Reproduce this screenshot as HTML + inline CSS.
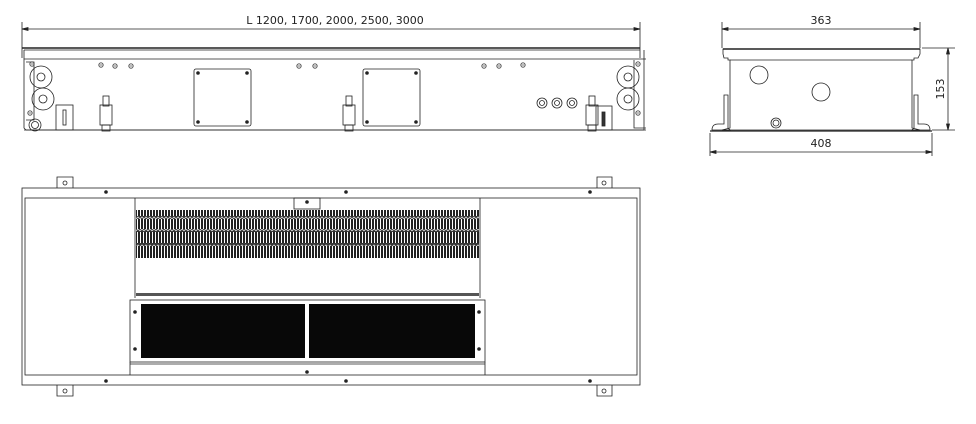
<!DOCTYPE html>
<html><head><meta charset="utf-8"><style>
html,body{margin:0;padding:0;background:#fff;width:976px;height:424px;overflow:hidden}
svg{display:block}
text{font-family:"DejaVu Sans","Liberation Sans",sans-serif;font-size:11px;fill:#222}
</style></head><body>
<svg width="976" height="424" viewBox="0 0 976 424" xmlns="http://www.w3.org/2000/svg">
<defs>
<pattern id="coil" width="3" height="6" patternUnits="userSpaceOnUse">
<rect width="3" height="6" fill="#fff"/><rect width="2" height="6" fill="#222"/>
</pattern>
<pattern id="zz" width="4" height="4" patternUnits="userSpaceOnUse">
<rect width="4" height="4" fill="#333"/><path d="M0 3 L2 1 L4 3" stroke="#ddd" stroke-width="0.8" fill="none"/>
</pattern>
<g id="scr"><circle r="2.2" fill="none" stroke="#444" stroke-width="0.8"/><line x1="-1.5" x2="1.5" stroke="#444" stroke-width="0.7"/></g>
<g id="dot"><circle r="1.8" fill="#222"/></g>
</defs>
<g stroke="#222" fill="none" stroke-width="0.8">
<!-- TOP VIEW dims -->
<line x1="22" y1="22" x2="22" y2="48"/><line x1="640" y1="22" x2="640" y2="48"/>
<line x1="22" y1="29" x2="640" y2="29"/>
<path d="M22 29 l6 -1.5 v3z M640 29 l-6 -1.5 v3z" fill="#222"/>
<!-- body -->
<line x1="22" y1="48" x2="640" y2="48" stroke-width="1.4"/>
<line x1="22" y1="48" x2="22" y2="58"/><line x1="640" y1="48" x2="640" y2="58"/>
<line x1="24" y1="59" x2="646" y2="59" stroke-width="0.8"/>
<path d="M24 50 V128 l2 2 H644 V50"/>
<line x1="24" y1="130" x2="646" y2="130"/>
<line x1="24" y1="50" x2="640" y2="50"/>
<path d="M26 62 H34 V120 H26" />
<circle cx="41" cy="77" r="11"/><circle cx="41" cy="77" r="4"/>
<circle cx="43" cy="99" r="11"/><circle cx="43" cy="99" r="4"/>
<circle cx="35" cy="125" r="6"/><circle cx="35" cy="125" r="3.5"/>
<rect x="56" y="105" width="17" height="25"/><rect x="63" y="110" width="3" height="15"/>
<rect x="100" y="105" width="12" height="20"/><rect x="103" y="96" width="6" height="10"/><rect x="102" y="125" width="8" height="6"/>
<rect x="194" y="69" width="57" height="57" rx="2"/>
<rect x="363" y="69" width="57" height="57" rx="2"/>
<rect x="343" y="105" width="12" height="20"/><rect x="346" y="96" width="6" height="10"/><rect x="345" y="125" width="8" height="6"/>
<rect x="586" y="105" width="12" height="20"/><rect x="589" y="96" width="6" height="10"/><rect x="588" y="125" width="8" height="6"/>
<rect x="596" y="106" width="16" height="24"/><rect x="602" y="112" width="3" height="14" fill="#333"/>
<circle cx="542" cy="103" r="5"/><circle cx="542" cy="103" r="2.5"/>
<circle cx="557" cy="103" r="5"/><circle cx="557" cy="103" r="2.5"/>
<circle cx="572" cy="103" r="5"/><circle cx="572" cy="103" r="2.5"/>
<circle cx="628" cy="77" r="11"/><circle cx="628" cy="77" r="4"/>
<circle cx="628" cy="99" r="11"/><circle cx="628" cy="99" r="4"/>
<path d="M634 60 V128 H646"/>
</g>
<g>
<use href="#scr" x="32" y="64"/><use href="#scr" x="101" y="65"/><use href="#scr" x="115" y="66"/><use href="#scr" x="131" y="66"/>
<use href="#scr" x="299" y="66"/><use href="#scr" x="315" y="66"/><use href="#scr" x="484" y="66"/><use href="#scr" x="499" y="66"/><use href="#scr" x="523" y="65"/>
<use href="#scr" x="30" y="113"/><use href="#scr" x="638" y="64"/><use href="#scr" x="638" y="113"/>
<use href="#dot" x="198" y="73"/><use href="#dot" x="247" y="73"/><use href="#dot" x="198" y="122"/><use href="#dot" x="247" y="122"/>
<use href="#dot" x="367" y="73"/><use href="#dot" x="416" y="73"/><use href="#dot" x="367" y="122"/><use href="#dot" x="416" y="122"/>
</g>
<text x="335" y="24" text-anchor="middle">L 1200, 1700, 2000, 2500, 3000</text>

<!-- SIDE VIEW -->
<g stroke="#222" fill="none" stroke-width="0.8">
<line x1="722" y1="22" x2="722" y2="48"/><line x1="920" y1="22" x2="920" y2="48"/>
<line x1="722" y1="29" x2="920" y2="29"/>
<path d="M722 29 l6 -1.5 v3z M920 29 l-6 -1.5 v3z" fill="#222"/>
<path d="M723 49 H920 V54 L918 58 H914 V60 H912 V128 L920 130 H722 L730 128 V60 H728 V58 H724 L723 54Z"/>
<line x1="723" y1="49" x2="920" y2="49" stroke-width="1.4"/>
<line x1="730" y1="60" x2="912" y2="60"/>
<circle cx="759" cy="75" r="9"/><circle cx="821" cy="92" r="9"/>
<circle cx="776" cy="123" r="5"/><circle cx="776" cy="123" r="3"/>
<path d="M712 130 Q712 124 718 124 H724 V95 H728 V128 L730 130Z"/>
<path d="M930 130 Q930 124 924 124 H918 V95 H914 V128 L912 130Z"/>
<line x1="710" y1="131" x2="932" y2="131" stroke-width="1.2"/>
<line x1="922" y1="48" x2="955" y2="48"/><line x1="932" y1="130" x2="955" y2="130"/>
<line x1="948" y1="48" x2="948" y2="130"/>
<path d="M948 48 l-1.5 6 h3z M948 130 l-1.5 -6 h3z" fill="#222"/>
<line x1="710" y1="133" x2="710" y2="156"/><line x1="932" y1="133" x2="932" y2="156"/>
<line x1="710" y1="152" x2="932" y2="152"/>
<path d="M710 152 l6 -1.5 v3z M932 152 l-6 -1.5 v3z" fill="#222"/>
</g>
<text x="821" y="24" text-anchor="middle">363</text>
<text x="821" y="147" text-anchor="middle">408</text>
<text x="0" y="0" text-anchor="middle" transform="translate(944 89) rotate(-90)">153</text>

<!-- BOTTOM VIEW -->
<g stroke="#222" fill="none" stroke-width="0.8">
<path d="M57 188 V177 H73 V188 M597 188 V177 H612 V188"/>
<path d="M57 385 V396 H73 V385 M597 385 V396 H612 V385"/>
<circle cx="65" cy="183" r="2"/><circle cx="604" cy="183" r="2"/>
<circle cx="65" cy="391" r="2"/><circle cx="604" cy="391" r="2"/>
<rect x="22" y="188" width="618" height="197"/>
<rect x="25" y="198" width="612" height="177"/>
<line x1="135" y1="198" x2="135" y2="298"/>
<line x1="480" y1="198" x2="480" y2="298"/>
<rect x="294" y="198" width="26" height="11"/>
<rect x="130" y="300" width="355" height="62"/>
<line x1="130" y1="364" x2="485" y2="364"/>
<line x1="130" y1="362" x2="130" y2="375"/><line x1="485" y1="362" x2="485" y2="375"/>
</g>
<rect x="136" y="210" width="343" height="48" fill="url(#coil)"/>
<rect x="136" y="216" width="343" height="3" fill="url(#zz)"/>
<rect x="136" y="229" width="343" height="3" fill="url(#zz)"/>
<rect x="136" y="243" width="343" height="3" fill="url(#zz)"/>
<rect x="136" y="293" width="343" height="3" fill="#555"/>
<rect x="141" y="304" width="164" height="54" fill="#080808"/>
<rect x="309" y="304" width="166" height="54" fill="#080808"/>
<g>
<use href="#dot" x="307" y="202"/><use href="#dot" x="135" y="312"/><use href="#dot" x="135" y="349"/>
<use href="#dot" x="479" y="312"/><use href="#dot" x="479" y="349"/><use href="#dot" x="307" y="372"/>
<use href="#dot" x="106" y="192"/><use href="#dot" x="346" y="192"/><use href="#dot" x="590" y="192"/>
<use href="#dot" x="106" y="381"/><use href="#dot" x="346" y="381"/><use href="#dot" x="590" y="381"/>
</g>
</svg>
</body></html>
